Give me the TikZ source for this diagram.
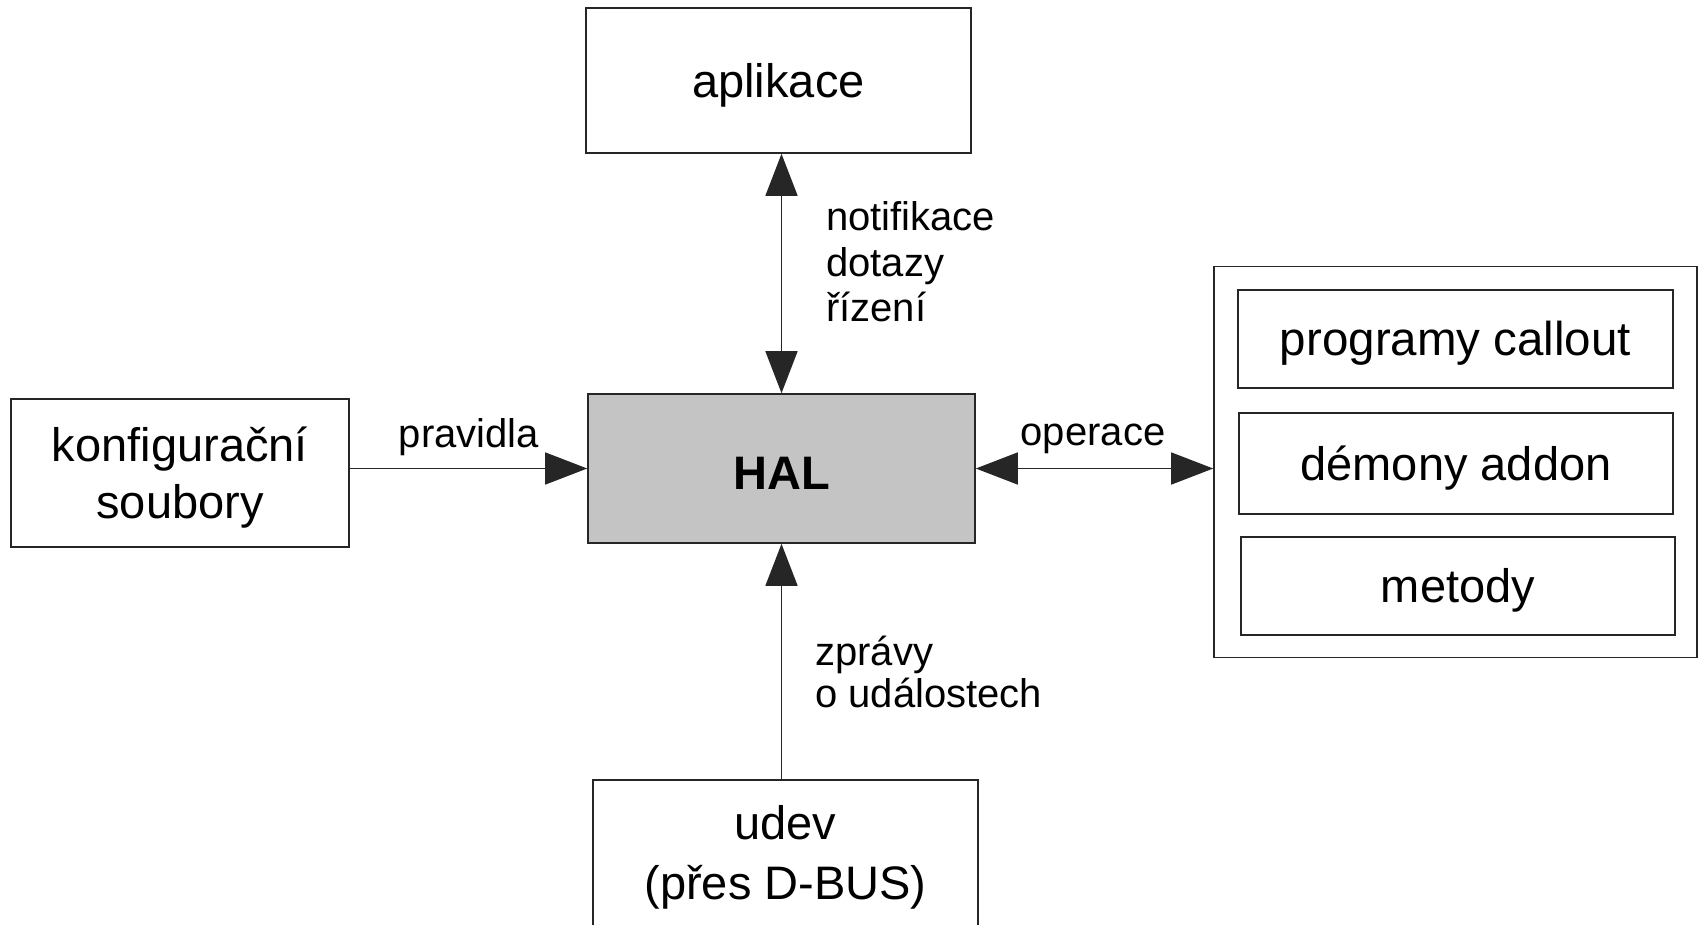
\documentclass[tikz,border=0pt]{standalone}
\usepackage{fontspec}
\setmainfont{Liberation Sans}
\usetikzlibrary{arrows.meta,calc}
\newcommand\lowertxt[1]{\raisebox{-4.5pt}[\height][\depth]{#1}}
\begin{document}
\begin{tikzpicture}[x=1pt,y=-1pt,
  box/.style={draw=black!85,line width=1.6pt,rectangle,inner sep=0pt,align=center,
    font=\fontsize{47}{57}\selectfont},
  lbl/.style={inner sep=0pt,align=left,font=\fontsize{40}{45.5}\selectfont},
  conn/.style={line width=1.5pt,black!85},
  tip/.style={-{Triangle[length=42pt,width=32pt]}},
  tips/.style={{Triangle[length=42pt,width=32pt]}-{Triangle[length=42pt,width=32pt]}}]
\useasboundingbox (0,0) rectangle (1699,924);
\clip (0,0) rectangle (1699,924);
\fill[white] (0,0) rectangle (1699,924);
% nodes
\node[box,minimum width=385pt,minimum height=145pt] (app) at (778.5,80.5) {\lowertxt{aplikace}};
\node[box,minimum width=387pt,minimum height=149pt,fill=black!23,
  font=\fontsize{47}{57}\selectfont\bfseries] (hal) at (781.5,468.5) {\lowertxt{HAL}};
\node[box,minimum width=338pt,minimum height=148pt] (konf) at (180,473) {\lowertxt{konfigurační}\\\lowertxt{soubory}};
\node[box,minimum width=483pt,minimum height=391pt] (grp) at (1455.5,462) {};
\node[box,minimum width=435pt,minimum height=98pt,font=\fontsize{47.5}{54}\selectfont] (callout) at (1455.5,339) {\lowertxt{programy callout}};
\node[box,minimum width=434pt,minimum height=101pt] (addon) at (1456,463.5) {\lowertxt{démony addon}};
\node[box,minimum width=434pt,minimum height=98pt] (metody) at (1458,586) {\lowertxt{metody}};
\node[box,minimum width=385pt,minimum height=146pt,font=\fontsize{47}{60}\selectfont] (udev) at (785.5,853) {\lowertxt{udev}\\\lowertxt{(přes D-BUS)}};
% connectors
\draw[conn,tips] (hal.north) -- (hal.north |- app.south);
\draw[conn,tip] (konf.east |- hal.west) -- (hal.west);
\draw[conn,tips] (hal.east) -- (grp.west |- hal.east);
\draw[conn,tip] (udev.north -| hal.south) -- (hal.south);
% labels
\node[lbl,anchor=west] (lnot) at (826,262) {notifikace\\dotazy\\řízení};
\node[lbl] (lprav) at (469,437) {pravidla};
\node[lbl] (lop) at (1093,438.5) {operace};
\node[lbl,anchor=west,font=\fontsize{40}{42}\selectfont] (lzpr) at (815,672) {zprávy\\o událostech};
\end{tikzpicture}
\end{document}
